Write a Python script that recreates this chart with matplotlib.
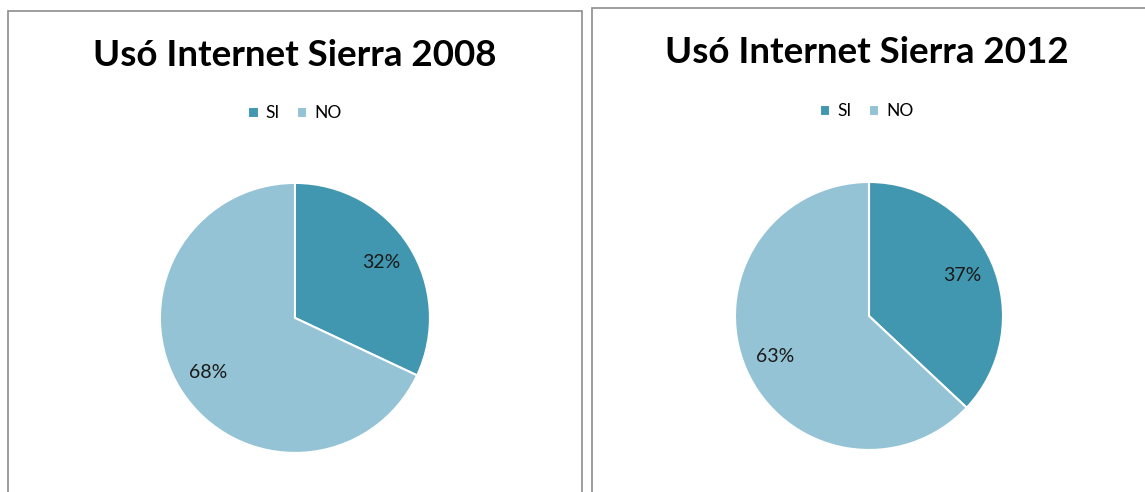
import matplotlib.pyplot as plt
from matplotlib.patches import Rectangle

# datos
etiquetas = ['SI', 'NO']
valores_2008 = [32, 68]
valores_2012 = [37, 63]
titulos = ['Usó Internet Sierra 2008', 'Usó Internet Sierra 2012']
colores = ['#4197b0', '#93c3d5']

plt.rcParams['font.family'] = ['Lato', 'DejaVu Sans']

fig = plt.figure(figsize=(11.45, 4.92), dpi=100)

# marcos de cada grafico
fig.patches.append(Rectangle((8 / 1145, -0.05), 574 / 1145, 1.05 - 11 / 492,
                             transform=fig.transFigure, fill=False,
                             edgecolor='#8c8c8c', linewidth=1.2))
fig.patches.append(Rectangle((592 / 1145, -0.05), 0.5, 1.05 - 8 / 492,
                             transform=fig.transFigure, fill=False,
                             edgecolor='#8c8c8c', linewidth=1.2))

paneles = [
    (valores_2008, [0.1397, 0.0793, 0.2358, 0.549], 0.2576, 0.888, 0.770),
    (valores_2012, [0.6419, 0.0854, 0.2341, 0.5447], 0.757, 0.894, 0.774),
]

for (valores, caja, xc, yt, yl), titulo in zip(paneles, titulos):
    ax = fig.add_axes(caja)
    wedges, _, autotexts = ax.pie(valores, colors=colores, startangle=90,
                                  counterclock=False, autopct='%1.0f%%',
                                  pctdistance=0.76,
                                  wedgeprops=dict(edgecolor='white', linewidth=1.5),
                                  textprops=dict(fontsize=14, color='#1a1a1a'))
    ax.set_xlim(-1, 1)
    ax.set_ylim(-1, 1)
    ax.set_aspect('equal')
    fig.text(xc, yt, titulo, ha='center', va='center', fontsize=26.5,
             fontweight='bold', color='black')
    fig.legend(wedges, etiquetas, loc='center', bbox_to_anchor=(xc, yl),
               ncol=2, frameon=False, fontsize=12.5, handlelength=0.6,
               handleheight=0.6, handletextpad=0.4, columnspacing=1.0)

fig.savefig('out.png', dpi=100)
